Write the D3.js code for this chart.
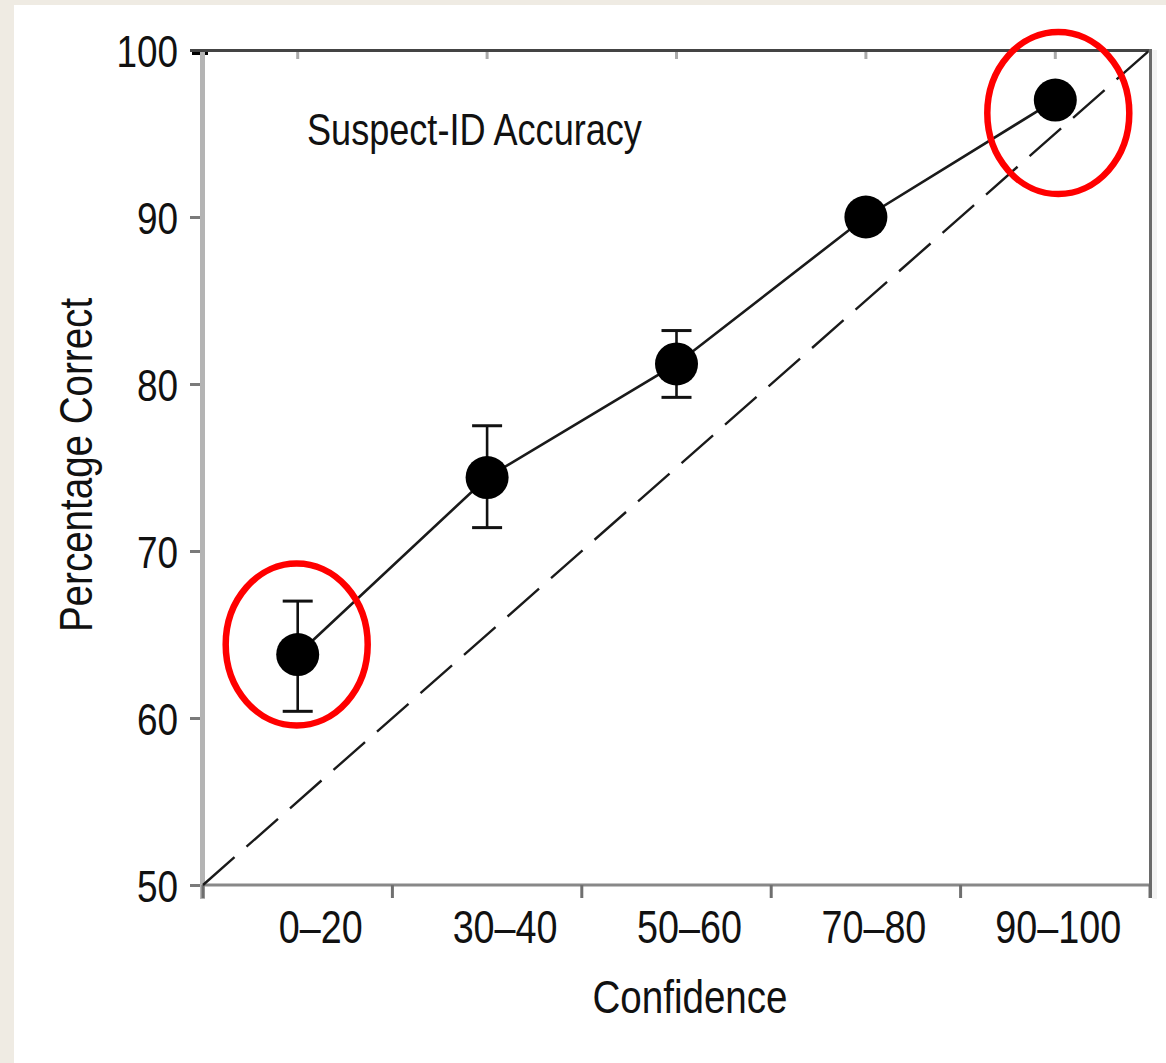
<!DOCTYPE html>
<html>
<head>
<meta charset="utf-8">
<script src="https://cdn.jsdelivr.net/npm/d3@7"></script>
<style>
  html, body { margin: 0; padding: 0; background: #efebe3; }
  svg { display: block; }
  text { font-family: "Liberation Sans", Arial, sans-serif; fill: #111; }
</style>
</head>
<body>
<svg id="chart" width="1166" height="1063"></svg>
<script>
// Confidence bins and percentage of correct suspect identifications
const categories = ["0\u201320", "30\u201340", "50\u201360", "70\u201380", "90\u2013100"];
const accuracy   = [63.8, 74.4, 81.2, 90.0, 97.0];
const ciLow      = [60.4, 71.4, 79.2, 89.2, 96.3];
const ciHigh     = [67.0, 77.5, 83.2, 90.8, 97.7];
const yTicks     = [50, 60, 70, 80, 90, 100];
// perfect-calibration reference: confidence (0-100) vs. accuracy
const calibConf  = [0, 100];
const calibPct   = [50, 100];
// bins circled for emphasis
const highlighted = ["0\u201320", "90\u2013100"];

const svg = d3.select("#chart");

// white page panel over a beige margin
svg.append("rect").attr("x", 14).attr("y", 5).attr("width", 1152).attr("height", 1058).attr("fill", "#ffffff");

const pLeft = 203, pRight = 1150, pTop = 50, pBottom = 885;

const x = d3.scaleBand().domain(categories).range([pLeft, pRight]).padding(0);
const xc = d3.scaleLinear().domain([0, 100]).range([pLeft, pRight]);
const y = d3.scaleLinear().domain([50, 100]).range([pBottom, pTop]);
const bw = x.bandwidth();
const cx = c => x(c) + bw / 2;
// tick labels sit slightly right of the bin centres
const labelX = d3.scalePoint().domain(categories).range([cx(categories[0]) + 23, cx(categories[categories.length - 1]) + 3]);

// faint strip beyond the right frame
svg.append("rect").attr("x", 1152).attr("y", pTop).attr("width", 5).attr("height", pBottom - pTop + 14).attr("fill", "#f3f3f3");

// left axis (light grey bar with outward ticks)
const yAxis = d3.axisLeft(y).tickValues(yTicks).tickSize(13).tickFormat(d3.format("d")).tickPadding(12);
const gy = svg.append("g").attr("transform", `translate(${pLeft},0)`).call(yAxis);
gy.select(".domain").remove();
gy.selectAll(".tick line").attr("stroke", "#7a7a7a").attr("stroke-width", 3);
gy.selectAll(".tick text").attr("font-size", 45).attr("fill", "#111").attr("x", -25).attr("dy", "0.36em")
  .attr("font-family", null);
gy.attr("font-family", null).attr("font-size", null);
gy.selectAll(".tick").filter(d => d === 100).select("line").attr("stroke", "#000").attr("x1", 5).attr("x2", -11).attr("transform", "translate(0,3)");
svg.append("line").attr("x1", pLeft - 0.5).attr("x2", pLeft - 0.5).attr("y1", pTop + 1).attr("y2", pBottom + 14)
  .attr("stroke", "#b4b4b4").attr("stroke-width", 5);

// bottom axis with ticks at bin boundaries
const bounds = categories.map(c => x(c)).concat([pRight]);
const gx = svg.append("g");
gx.append("line").attr("x1", pLeft).attr("x2", pRight).attr("y1", pBottom).attr("y2", pBottom)
  .attr("stroke", "#888").attr("stroke-width", 3);
gx.selectAll("line.tick").data(bounds).join("line").attr("class", "tick")
  .attr("x1", d => d).attr("x2", d => d).attr("y1", pBottom).attr("y2", pBottom + 13)
  .attr("stroke", "#6f6f6f").attr("stroke-width", 3);
gx.selectAll("text").data(categories).join("text")
  .attr("x", d => labelX(d)).attr("y", 943).attr("text-anchor", "middle").attr("font-size", 46)
  .text(d => d);

// top and right frame
svg.append("line").attr("x1", pLeft - 13).attr("x2", pRight + 2).attr("y1", pTop + 0.5).attr("y2", pTop + 0.5)
  .attr("stroke", "#444").attr("stroke-width", 3);
svg.selectAll("line.toptick").data(categories).join("line").attr("class", "toptick")
  .attr("x1", d => cx(d)).attr("x2", d => cx(d)).attr("y1", pTop + 2).attr("y2", pTop + 9)
  .attr("stroke", "#aaa").attr("stroke-width", 3);
svg.append("line").attr("x1", pRight + 0.5).attr("x2", pRight + 0.5).attr("y1", pTop - 1).attr("y2", pBottom + 13)
  .attr("stroke", "#6a6a6a").attr("stroke-width", 3);

// axis titles
svg.append("text").attr("transform", "translate(92,465) rotate(-90)").attr("text-anchor", "middle")
  .attr("font-size", 47).text("Percentage Correct");
svg.append("text").attr("x", 690).attr("y", 1013).attr("text-anchor", "middle")
  .attr("font-size", 47).text("Confidence");
svg.append("text").attr("x", 307).attr("y", 145).attr("font-size", 44).text("Suspect-ID Accuracy");

// calibration diagonal
const calib = calibConf.map((c, i) => [xc(c), y(calibPct[i])]);
svg.append("path").attr("d", d3.line()(calib)).attr("fill", "none")
  .attr("stroke", "#1a1a1a").attr("stroke-width", 2.4).attr("stroke-dasharray", "42 16");

// accuracy line
const pts = categories.map((c, i) => [cx(c), y(accuracy[i])]);
svg.append("path").attr("d", d3.line()(pts)).attr("fill", "none")
  .attr("stroke", "#1a1a1a").attr("stroke-width", 2.6);

// error bars
const eb = svg.append("g").attr("stroke", "#111");
categories.forEach((c, i) => {
  eb.append("line").attr("x1", cx(c)).attr("x2", cx(c)).attr("y1", y(ciLow[i])).attr("y2", y(ciHigh[i])).attr("stroke-width", 2.6);
  [ciLow[i], ciHigh[i]].forEach(v => {
    eb.append("line").attr("x1", cx(c) - 15).attr("x2", cx(c) + 15).attr("y1", y(v)).attr("y2", y(v)).attr("stroke-width", 3);
  });
});

// points
svg.selectAll("circle.pt").data(categories).join("circle").attr("class", "pt")
  .attr("cx", d => cx(d)).attr("cy", (d, i) => y(accuracy[i])).attr("r", 21.5).attr("fill", "#000");

// red emphasis ellipses around the extreme bins
const shift = { "0\u201320": [-1, -10], "90\u2013100": [3, 13] };
svg.selectAll("ellipse.hl").data(highlighted).join("ellipse").attr("class", "hl")
  .attr("cx", d => cx(d) + shift[d][0])
  .attr("cy", d => y(accuracy[categories.indexOf(d)]) + shift[d][1])
  .attr("rx", 71).attr("ry", 81).attr("fill", "none").attr("stroke", "#ff0000").attr("stroke-width", 6.5);

// condensed lettering: squeeze every label horizontally
svg.selectAll("text").each(function () {
  const w = this.getComputedTextLength();
  this.setAttribute("textLength", (w * 0.82).toFixed(1));
  this.setAttribute("lengthAdjust", "spacingAndGlyphs");
});
</script>
</body>
</html>
